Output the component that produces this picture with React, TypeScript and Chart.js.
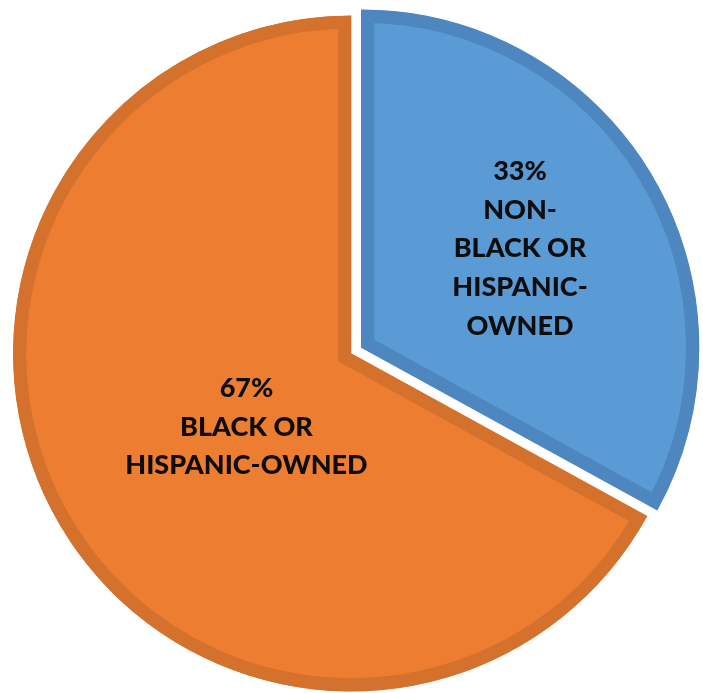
import { useEffect, useRef } from "react";
import { Chart, registerables } from "chart.js";

Chart.register(...registerables);

// ---- data ----
const categories = ["NON-BLACK OR HISPANIC-OWNED", "BLACK OR HISPANIC-OWNED"];
const shares = [33, 67];
const labelLines = [
  ["NON-", "BLACK OR", "HISPANIC-", "OWNED"],
  ["BLACK OR", "HISPANIC-OWNED"],
];

// ---- styles ----
const fillColors = ["#5B9BD5", "#ED7D31"];
const borderColors = ["#4E87BF", "#D4712C"];
const explodePx = [12, 0];
const labelRadius = [0.553, 0.378];
const labelAngleTweakDeg = [-1.3, -4.5];
const FONT_FAMILY = "Lato";
const FONT_SIZE = 27;
const LINE_HEIGHT = 38.7;

const explodeAndLabels = {
  id: "explodeAndLabels",
  beforeDatasetDraw(chart: any, args: any) {
    const meta = chart.getDatasetMeta(args.index);
    const ctx = chart.ctx;
    meta.data.forEach((arc: any, i: number) => {
      const mid = (arc.startAngle + arc.endAngle) / 2;
      const d = explodePx[i] || 0;
      ctx.save();
      ctx.translate(Math.cos(mid) * d, Math.sin(mid) * d);
      arc.draw(ctx);
      ctx.restore();
    });
    return false;
  },
  afterDatasetsDraw(chart: any) {
    const meta = chart.getDatasetMeta(0);
    const ctx = chart.ctx;
    const total = shares.reduce((a, b) => a + b, 0);
    meta.data.forEach((arc: any, i: number) => {
      const mid = (arc.startAngle + arc.endAngle) / 2;
      const d = explodePx[i] || 0;
      const a = mid + (labelAngleTweakDeg[i] * Math.PI) / 180;
      const r = arc.outerRadius * labelRadius[i];
      const cx = arc.x + Math.cos(mid) * d + Math.cos(a) * r;
      const cy = arc.y + Math.sin(mid) * d + Math.sin(a) * r;
      const lines = [Math.round((shares[i] / total) * 100) + "%", ...labelLines[i]];
      ctx.save();
      ctx.fillStyle = "#0d0d0d";
      ctx.font = `900 ${FONT_SIZE}px ${FONT_FAMILY}`;
      ctx.textAlign = "center";
      ctx.textBaseline = "middle";
      const startY = cy - ((lines.length - 1) * LINE_HEIGHT) / 2;
      lines.forEach((t, k) => ctx.fillText(t, cx, startY + k * LINE_HEIGHT));
      ctx.restore();
    });
  },
};

export default function App() {
  const ref = useRef<HTMLCanvasElement | null>(null);
  useEffect(() => {
    if (!ref.current) return;
    const chart = new Chart(ref.current, {
      type: "pie",
      data: {
        labels: categories,
        datasets: [
          {
            data: shares,
            backgroundColor: fillColors,
            borderColor: borderColors,
            borderWidth: 13,
            borderAlign: "inner",
            borderJoinStyle: "miter",
          } as any,
        ],
      },
      options: {
        animation: false,
        responsive: false,
        events: [],
        radius: 338,
        layout: { padding: { top: 14, bottom: 0, left: 0, right: 1 } },
        plugins: {
          legend: { display: false },
          tooltip: { enabled: false },
          title: { display: false },
        },
      } as any,
      plugins: [explodeAndLabels],
    });
    return () => chart.destroy();
  }, []);
  return (
    <div style={{ position: "absolute", left: 0, top: 0, width: 703, height: 693, background: "#fff" }}>
      <canvas ref={ref} width={703} height={693} />
    </div>
  );
}
